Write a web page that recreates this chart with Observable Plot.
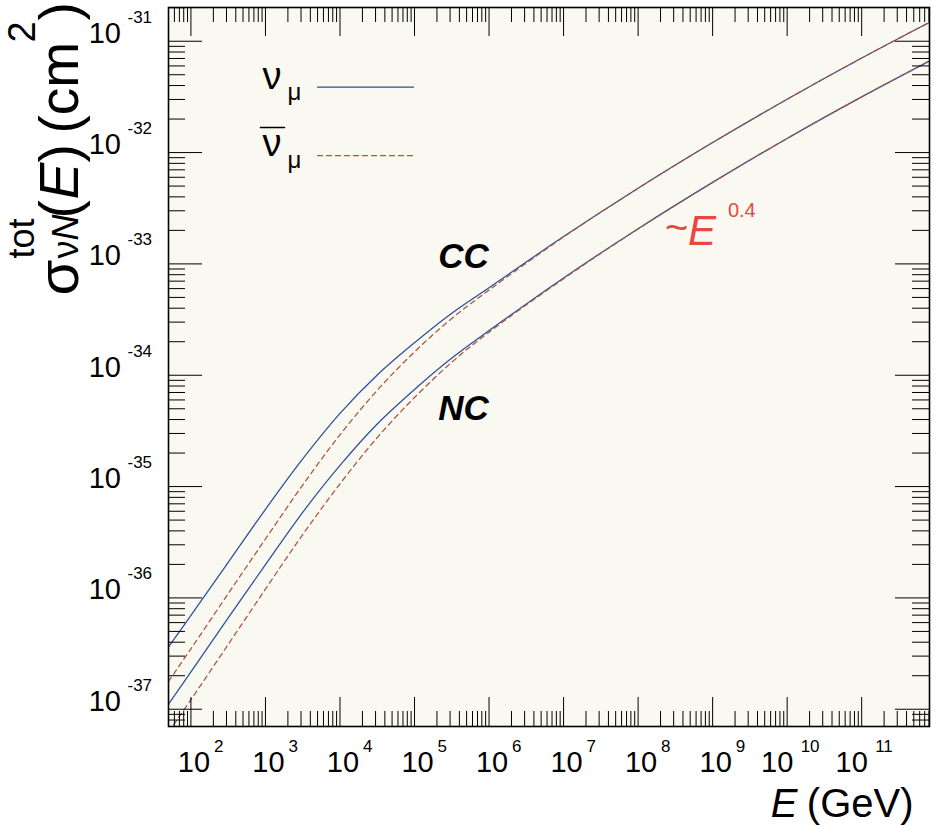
<!DOCTYPE html>
<html>
<head>
<meta charset="utf-8">
<script src="https://cdn.jsdelivr.net/npm/d3@7"></script>
<script src="https://cdn.jsdelivr.net/npm/@observablehq/plot@0.6"></script>
<style>
  html, body { margin: 0; padding: 0; background: #ffffff; }
  #chart svg { display: block; }
</style>
</head>
<body>
<div id="chart"></div>
<script>
// ---------------- data ----------------
const energyGeV = [50, 100, 316.2, 1000, 3162, 1e4, 31623, 1e5, 316228, 1e6, 1e7, 1e8, 1e9, 1e10, 1e11, 1e12];
// log10 of the total cross-section in cm^2
const logSigmaCCnu    = [-36.44, -36.157, -35.68, -35.204, -34.752, -34.343, -33.998, -33.708, -33.443, -33.214, -32.754, -32.32, -31.91, -31.521, -31.151, -30.799];
const logSigmaCCnubar = [-36.75, -36.457, -35.962, -35.471, -34.986, -34.535, -34.135, -33.79, -33.49, -33.235, -32.759, -32.321, -31.91, -31.521, -31.151, -30.799];
const logSigmaNCnu    = [-36.955, -36.664, -36.18, -35.701, -35.231, -34.81, -34.438, -34.128, -33.846, -33.599, -33.126, -32.684, -32.268, -31.873, -31.50, -31.146];
const logSigmaNCnubar = [-37.206, -36.914, -36.418, -35.921, -35.431, -34.975, -34.56, -34.20, -33.883, -33.613, -33.133, -32.686, -32.268, -31.873, -31.50, -31.146];

// axis ticks
const xDecadeExponents = [2, 3, 4, 5, 6, 7, 8, 9, 10, 11];
const yDecadeExponents = [-37, -36, -35, -34, -33, -32, -31];
const minorMultipliers = [2, 3, 4, 5, 6, 7, 8, 9];

// annotation positions (data space: log10 E, log10 sigma)
const annotCC = {logE: 5.319, logS: -33.04, text: "CC"};
const annotNC = {logE: 5.319, logS: -34.405, text: "NC"};
const annotSlope = {logE: 8.36, logS: -32.834};

// ---------------- layout / style ----------------
const W = 937, H = 825;
const mL = 168, mR = 8, mT = 7, mB = 99;
const innerW = W - mL - mR;
const innerH = H - mT - mB;
const xDomain = [50, Math.pow(10, 11.91)];
const yDomain = [Math.pow(10, -37.155), Math.pow(10, -30.697)];
const blue = "#2d4e9e", brown = "#a8553f", red = "#e9473f", bg = "#f9f8f1";
const font = "'Liberation Sans', Arial, Helvetica, sans-serif";

// ---------------- build tables ----------------
const seriesDefs = [
  {name: "CC nu", kind: "nu", vals: logSigmaCCnu},
  {name: "CC nubar", kind: "nubar", vals: logSigmaCCnubar},
  {name: "NC nu", kind: "nu", vals: logSigmaNCnu},
  {name: "NC nubar", kind: "nubar", vals: logSigmaNCnubar}
];
const rows = seriesDefs.flatMap(s => energyGeV.map((E, i) => ({series: s.name, kind: s.kind, E, sigma: Math.pow(10, s.vals[i])})));
const nuRows = rows.filter(r => r.kind === "nu");
const nubarRows = rows.filter(r => r.kind === "nubar");

const inDom = (v, d) => v >= d[0] * 0.9999 && v <= d[1] * 1.0001;
const xMajor = xDecadeExponents.map(e => Math.pow(10, e));
const xMinor = d3.range(1, 12).flatMap(e => minorMultipliers.map(m => m * Math.pow(10, e))).filter(v => inDom(v, xDomain));
const yMajor = yDecadeExponents.map(e => Math.pow(10, e));
const yMinor = d3.range(-38, -30).flatMap(e => minorMultipliers.map(m => m * Math.pow(10, e))).filter(v => inDom(v, yDomain));

const xExp1 = xDecadeExponents.filter(e => e < 10);
const xExp2 = xDecadeExponents.filter(e => e >= 10);

// absolute pixel placement helper for annotation text (frame anchored)
const at = (X, Y) => ({frameAnchor: "top-left", dx: X - mL, dy: Y - mT});
const hline = {draw(context, l) { context.moveTo(0, 0); context.lineTo(0, -l); }};

function rotText(text, X, Y, size, extra = {}) {
  return Plot.text([0], {
    ...at(X, Y), text: () => text, rotate: -90, textAnchor: "start", lineAnchor: "bottom",
    fontSize: size, fill: "black", ...extra
  });
}
function txt(text, X, Y, size, extra = {}) {
  return Plot.text([0], {
    ...at(X, Y), text: () => text, textAnchor: "start", lineAnchor: "bottom",
    fontSize: size, fill: "black", ...extra
  });
}

const chart = Plot.plot({
  width: W, height: H,
  marginLeft: mL, marginRight: mR, marginTop: mT, marginBottom: mB,
  style: {fontFamily: font, background: "#ffffff", overflow: "visible"},
  x: {type: "log", domain: xDomain, axis: null},
  y: {type: "log", domain: yDomain, axis: null},
  marks: [
    Plot.frame({fill: bg, stroke: null}),
    // curves
    Plot.line(nuRows, {x: "E", y: "sigma", z: "series", stroke: blue, strokeWidth: 1.25, curve: "catmull-rom", clip: true}),
    Plot.line(nubarRows, {x: "E", y: "sigma", z: "series", stroke: brown, strokeWidth: 1.25, strokeDasharray: "5,4", curve: "catmull-rom", clip: true}),
    // ROOT-style inner ticks on all four sides
    Plot.tickX(xMajor, {x: d => d, insetTop: innerH - 29, stroke: "black"}),
    Plot.tickX(xMajor, {x: d => d, insetBottom: innerH - 29, stroke: "black"}),
    Plot.tickX(xMinor, {x: d => d, insetTop: innerH - 15, stroke: "black"}),
    Plot.tickX(xMinor, {x: d => d, insetBottom: innerH - 15, stroke: "black"}),
    Plot.tickY(yMajor, {y: d => d, insetRight: innerW - 34, stroke: "black"}),
    Plot.tickY(yMajor, {y: d => d, insetLeft: innerW - 34, stroke: "black"}),
    Plot.tickY(yMinor, {y: d => d, insetRight: innerW - 17, stroke: "black"}),
    Plot.tickY(yMinor, {y: d => d, insetLeft: innerW - 17, stroke: "black"}),
    Plot.frame({stroke: "black", strokeWidth: 1.6}),
    // x tick labels 10^n
    Plot.text(xExp1, {x: e => Math.pow(10, e), text: () => "10", frameAnchor: "bottom", dy: 45.7, dx: 3, textAnchor: "middle", lineAnchor: "bottom", fontSize: 29, fill: "black"}),
    Plot.text(xExp1, {x: e => Math.pow(10, e), text: e => String(e), frameAnchor: "bottom", dy: 25.7, dx: 23, textAnchor: "start", lineAnchor: "bottom", fontSize: 17, fill: "black"}),
    Plot.text(xExp2, {x: e => Math.pow(10, e), text: () => "10", frameAnchor: "bottom", dy: 45.7, dx: -10, textAnchor: "middle", lineAnchor: "bottom", fontSize: 29, fill: "black"}),
    Plot.text(xExp2, {x: e => Math.pow(10, e), text: e => String(e), frameAnchor: "bottom", dy: 25.7, dx: 13.5, textAnchor: "start", lineAnchor: "bottom", fontSize: 17, fill: "black"}),
    // y tick labels 10^n
    Plot.text(yDecadeExponents, {y: e => Math.pow(10, e), text: () => "10", frameAnchor: "left", dx: -47.5, dy: 1.5, textAnchor: "end", lineAnchor: "bottom", fontSize: 29, fill: "black"}),
    Plot.text(yDecadeExponents, {y: e => Math.pow(10, e), text: e => String(e), frameAnchor: "left", dx: -41, dy: -18.5, textAnchor: "start", lineAnchor: "bottom", fontSize: 17, fill: "black"}),
    // CC / NC annotations
    Plot.text([annotCC, annotNC], {x: d => Math.pow(10, d.logE), y: d => Math.pow(10, d.logS), text: "text", textAnchor: "start", lineAnchor: "bottom", fontSize: 35, fontWeight: "bold", fontStyle: "italic", fill: "black"}),
    // ~E^0.4
    Plot.text([annotSlope], {x: d => Math.pow(10, d.logE), y: d => Math.pow(10, d.logS), text: () => "~", textAnchor: "start", lineAnchor: "bottom", fontSize: 40, dy: -4, fill: red}),
    Plot.text([annotSlope], {x: d => Math.pow(10, d.logE), y: d => Math.pow(10, d.logS), text: () => "E", dx: 23, textAnchor: "start", lineAnchor: "bottom", fontSize: 42, fontStyle: "italic", fill: red}),
    Plot.text([annotSlope], {x: d => Math.pow(10, d.logE), y: d => Math.pow(10, d.logS), text: () => "0.4", dx: 63, dy: -28, textAnchor: "start", lineAnchor: "bottom", fontSize: 20, fill: red}),
    // legend
    txt("ν", 262, 88, 38),
    txt("μ", 287, 99.5, 24),
    Plot.vector([0], {...at(317, 86.7), length: 96, rotate: 90, anchor: "start", shape: hline, stroke: blue, strokeWidth: 1.25}),
    Plot.vector([0], {...at(260, 127), length: 24, rotate: 90, anchor: "start", shape: hline, stroke: "black", strokeWidth: 1.6}),
    txt("ν", 262, 155, 38),
    txt("μ", 287, 167, 24),
    Plot.vector([0], {...at(317, 155), length: 96, rotate: 90, anchor: "start", shape: hline, stroke: brown, strokeWidth: 1.25, strokeDasharray: "5,4"}),
    // x title
    txt("(GeV)", 913, 816, 40, {textAnchor: "end"}),
    txt("E", 797, 816, 40, {textAnchor: "end", fontStyle: "italic"}),
    // y title: σ^tot_νN (E)  (cm²)
    rotText("σ", 77, 295, 58),
    rotText("tot", 33, 258, 36),
    rotText("ν", 77, 258, 36),
    rotText("N", 77, 240, 36, {fontStyle: "italic"}),
    rotText("(", 77, 218, 55),
    rotText("E", 77, 199, 55, {fontStyle: "italic"}),
    rotText(")", 77, 162, 55),
    rotText("(cm", 77, 133, 55),
    rotText("2", 34, 42, 38),
    rotText(")", 77, 20, 55)
  ]
});
document.getElementById("chart").append(chart);
</script>
</body>
</html>
